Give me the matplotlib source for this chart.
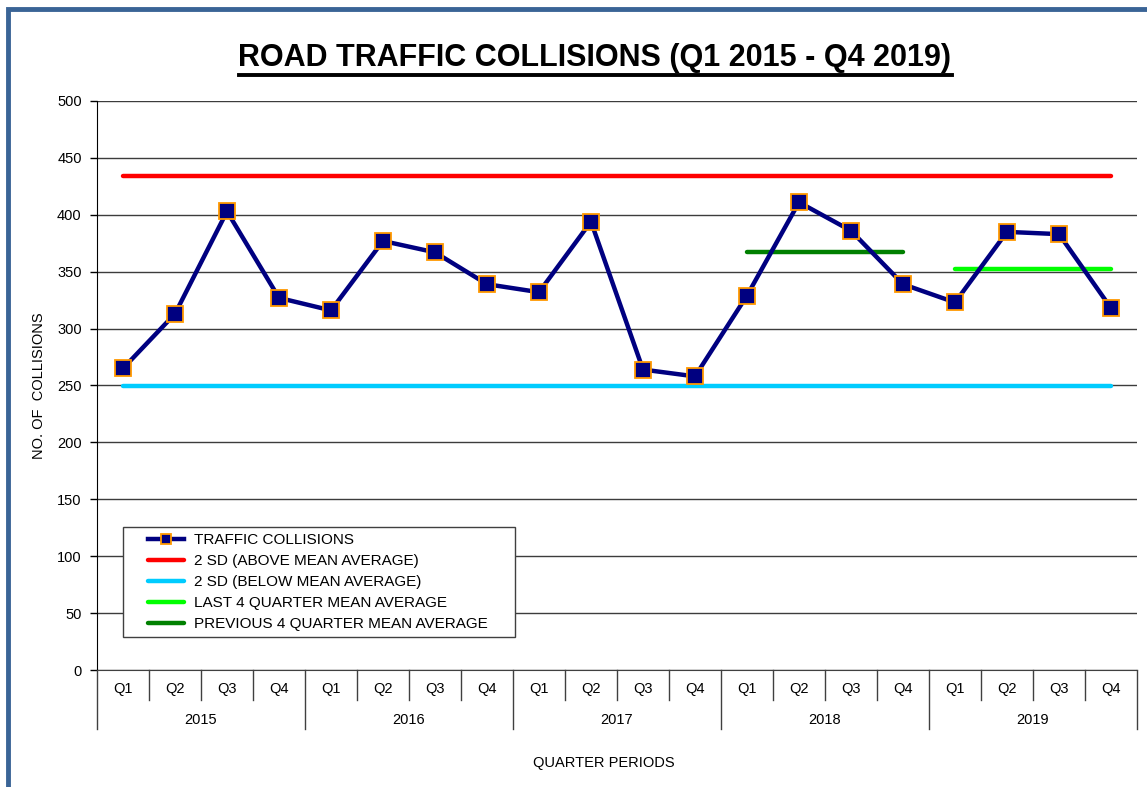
import matplotlib.pyplot as plt
from matplotlib.lines import Line2D
from matplotlib.patches import Rectangle
from matplotlib.legend_handler import HandlerLine2D

plt.rcParams['font.family'] = ['Liberation Sans', 'DejaVu Sans']

# ---- data ----
years = ['2015', '2016', '2017', '2018', '2019']
quarters = ['Q1', 'Q2', 'Q3', 'Q4']
collisions = [265, 313, 403, 327, 316, 377, 367, 339, 332, 394,
              264, 258, 329, 411, 386, 339, 323, 385, 383, 318]
upper_sd = 434     # 2 SD above mean
lower_sd = 249.5   # 2 SD below mean
prev_avg = 367     # Q1-Q4 2018
last_avg = 352     # Q1-Q4 2019
prev_idx = [12, 15]
last_idx = [16, 19]

n = len(collisions)
x = list(range(n))

fig = plt.figure(figsize=(11.47, 7.87), dpi=100)
W, H = 1147, 787
ax = fig.add_axes([97 / W, 1 - 670 / H, 1040 / W, 569 / H])

# blue frame on left/top
fig.patches.append(Rectangle((8 / W, -0.1), 1.2, 1 - 9 / H + 0.1, transform=fig.transFigure,
                             fill=False, edgecolor='#3A6496', lw=3.5, zorder=0))

ax.plot([x[0], x[-1]], [upper_sd, upper_sd], color='#FF0000', lw=3.2,
        solid_capstyle='round', label='2 SD (ABOVE MEAN AVERAGE)', zorder=3)
ax.plot([x[0], x[-1]], [lower_sd, lower_sd], color='#00CCFF', lw=3.2,
        solid_capstyle='round', label='2 SD (BELOW MEAN AVERAGE)', zorder=3)
ax.plot(last_idx, [last_avg, last_avg], color='#00FF00', lw=3.2,
        solid_capstyle='round', label='LAST 4 QUARTER MEAN AVERAGE', zorder=3)
ax.plot(prev_idx, [prev_avg, prev_avg], color='#008000', lw=3.2,
        solid_capstyle='round', label='PREVIOUS 4 QUARTER MEAN AVERAGE', zorder=3)
ax.plot(x, collisions, color='#000080', lw=3.2, marker='s', markersize=11,
        markerfacecolor='#000080', markeredgecolor='#FF9900', markeredgewidth=1.3,
        label='TRAFFIC COLLISIONS', zorder=4)

ax.set_xlim(-0.5, n - 0.5)
ax.set_ylim(0, 500)
ax.set_yticks(range(0, 501, 50))
ax.tick_params(axis='y', length=5, width=1, labelsize=10.5, pad=6)
ax.set_xticks([])
ax.grid(axis='y', color='#3c3c3c', lw=1)
ax.set_axisbelow(True)
for s in ['top', 'right']:
    ax.spines[s].set_visible(False)
ax.spines['left'].set_color('black')
ax.spines['bottom'].set_color('#404040')

# two-level category axis
tr = ax.get_xaxis_transform()
for i in range(n):
    ax.text(i, -0.034, quarters[i % 4], transform=tr, ha='center', va='center', fontsize=10.5)
for i in range(n + 1):
    long = (i % 4 == 0)
    ax.add_line(Line2D([i - 0.5, i - 0.5], [0, -0.104 if long else -0.053],
                       transform=tr, color='#404040', lw=1, clip_on=False))
for k, yr in enumerate(years):
    ax.text(k * 4 + 1.5, -0.087, yr, transform=tr, ha='center', va='center', fontsize=10.5)

ax.set_ylabel('NO. OF  COLLISIONS', fontsize=10.5, labelpad=8)
fig.text(604 / W, 1 - 763 / H, 'QUARTER PERIODS', ha='center', va='center', fontsize=10.5)

title = fig.text(595 / W, 1 - 58 / H, 'ROAD TRAFFIC COLLISIONS (Q1 2015 - Q4 2019)',
                 ha='center', va='center', fontsize=22, fontweight='bold')

handles, labels = ax.get_legend_handles_labels()
order = [4, 0, 1, 2, 3]
hl = HandlerLine2D(xpad=1.25)
leg = ax.legend([handles[i] for i in order], [labels[i] for i in order],
                loc='lower left', bbox_to_anchor=(0.025, 0.058, (515 - 123) / 1040, 0.1),
                mode='expand', borderaxespad=0,
                fontsize=11, fancybox=False, framealpha=1, edgecolor='#404040',
                handlelength=3.6, handletextpad=0.65, labelspacing=0.45,
                borderpad=0.4, markerscale=0.6,
                handler_map={Line2D: hl})
leg.get_frame().set_linewidth(1)

# underline the title
fig.canvas.draw()
bb = title.get_window_extent().transformed(fig.transFigure.inverted())
fig.lines.append(Line2D([bb.x0, bb.x1], [bb.y0 - 0.002, bb.y0 - 0.002],
                        transform=fig.transFigure, color='black', lw=2.8))

fig.savefig('out.png', dpi=100)
